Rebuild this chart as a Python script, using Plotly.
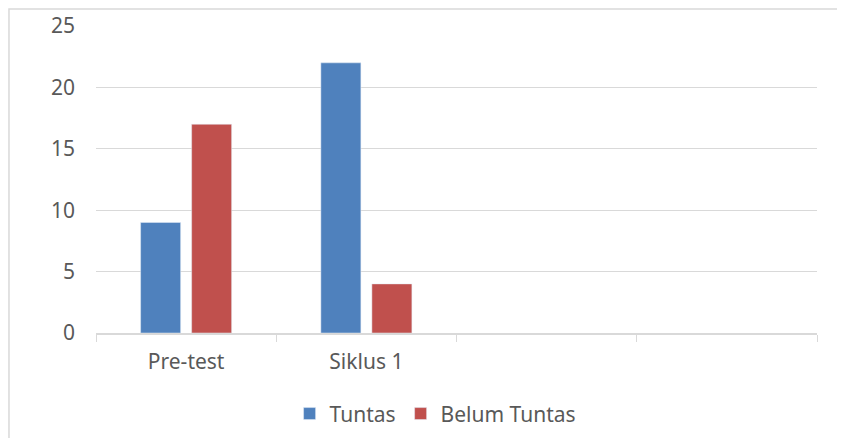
import plotly.graph_objects as go

categories = ["Pre-test", "Siklus 1", " ", "  "]
tuntas = [9, 22, None, None]
belum_tuntas = [17, 4, None, None]
y_ticks = [0, 5, 10, 15, 20, 25]

fig = go.Figure()
fig.add_trace(go.Bar(name="Tuntas", x=categories, y=tuntas, marker_color="#4F81BD"))
fig.add_trace(go.Bar(name="Belum Tuntas", x=categories, y=belum_tuntas, marker_color="#C0504D"))

font = dict(family="Noto Sans, Open Sans, sans-serif", size=21, color="#595959")
fig.update_layout(
    width=829, height=430,
    margin=dict(l=88, r=20, t=18, b=105, autoexpand=False),
    paper_bgcolor="white", plot_bgcolor="white",
    barmode="group", bargap=0.434, bargroupgap=0.216,
    font=font,
    showlegend=True,
    legend=dict(orientation="h", xref="paper", x=0.471, xanchor="center",
                yref="container", y=0.056, yanchor="middle",
                font=font, itemwidth=30, traceorder="normal"),
    xaxis=dict(type="category", categoryorder="array", categoryarray=categories,
               tickson="boundaries", ticks="outside", ticklen=7, tickcolor="#d9d9d9",
               showline=True, linecolor="#d9d9d9", linewidth=1.5, showgrid=False,
               ticklabelstandoff=9, automargin=False,
               tickfont=font, fixedrange=True),
    yaxis=dict(range=[0, 25], tickvals=y_ticks, showgrid=True, gridcolor="#d9d9d9",
               gridwidth=1.2, zeroline=False, showline=False, ticks="", automargin=False,
               ticklabelstandoff=20, tickfont=font, fixedrange=True),
    shapes=[dict(type="rect", xref="paper", yref="paper",
                 x0=-0.1207, x1=1.3, y0=-0.6, y1=1.0554,
                 line=dict(color="#d9d9d9", width=1.5), fillcolor="rgba(0,0,0,0)", layer="below")],
)
fig.write_html("out.html")
